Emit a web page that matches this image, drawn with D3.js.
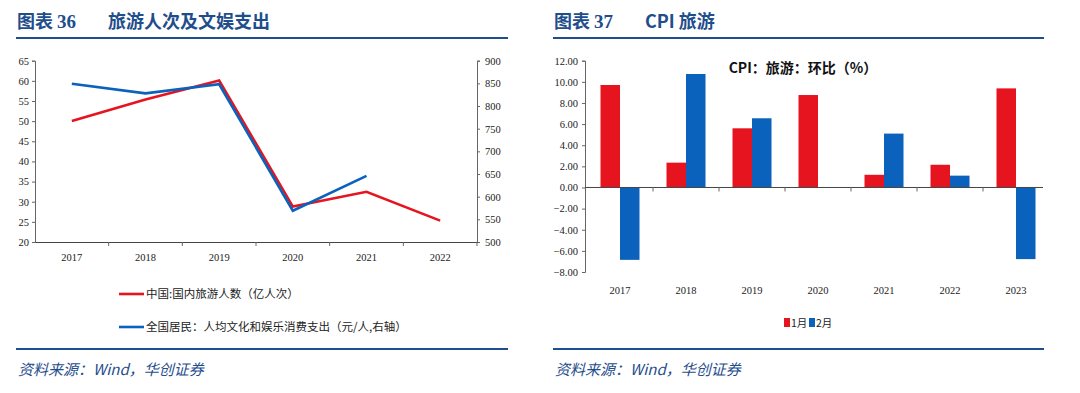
<!DOCTYPE html>
<meta charset="utf-8">
<script src="https://d3js.org/d3.v7.min.js"></script>
<style>
	body{
		margin:0;
		background:#fff;
	}
	svg text{
		font-family:"Liberation Serif", serif;
	}
	.cjk{
		font-family:"Noto Sans CJK SC", sans-serif !important;
	}
</style>
<div id="chart"></div>
<script>
	// left chart: tourism trips & culture/entertainment spending
	var years1 = ["2017","2018","2019","2020","2021","2022"]
	var trips = [50.01,55.39,60.06,28.79,32.46,25.30]          // 亿人次, left axis
	var spend = [849,828,848,569,646,null]                     // 元/人, right axis
	var leftTicks = [20,25,30,35,40,45,50,55,60,65]
	var rightTicks = [500,550,600,650,700,750,800,850,900]
	var legend1 = ["中国:国内旅游人数（亿人次）","全国居民：人均文化和娱乐消费支出（元/人,右轴）"]

	// right chart: CPI tourism mom
	var years2 = ["2017","2018","2019","2020","2021","2022","2023"]
	var jan = [9.7,2.35,5.6,8.75,1.2,2.15,9.38]
	var feb = [-6.85,10.74,6.55,null,5.1,1.12,-6.78]
	var cpiTicks = [-8,-6,-4,-2,0,2,4,6,8,10,12]
	var seriesNames = ["1月","2月"]

	var red = "#E6141E"
	var blue = "#0A62BC"
	var navy = "#1F4E8C"

	var svg = d3.select("#chart").append("svg").attr("width",1080).attr("height",393)

	// ---------- headers / footers ----------
	function frame(x0,x1,num,title){
		var t = svg.append("text").attr("class","cjk").attr("x",x0+1).attr("y",28)
			.attr("fill",navy).attr("font-size",18).attr("font-weight","bold")
		t.append("tspan").text("图表 ")
		t.append("tspan").text(num).attr("font-family","Liberation Serif").attr("font-size",19)
		svg.append("text").attr("class","cjk").attr("x",x0+92).attr("y",28)
			.attr("fill",navy).attr("font-size",18).attr("font-weight","bold").text(title)
		svg.append("line").attr("x1",x0).attr("x2",x1).attr("y1",38).attr("y2",38)
			.attr("stroke",navy).attr("stroke-width",2)
		svg.append("line").attr("x1",x0).attr("x2",x1).attr("y1",349).attr("y2",349)
			.attr("stroke",navy).attr("stroke-width",2)
		svg.append("text").attr("class","cjk").attr("x",x0+2).attr("y",375)
			.attr("fill",navy).attr("font-size",15).attr("font-style","italic")
			.text("资料来源：Wind，华创证券")
	}
	frame(16,508,"36","旅游人次及文娱支出")
	frame(553,1044,"37","CPI 旅游")

	// ---------- left chart ----------
	var x1 = d3.scaleBand().domain(years1).range([35,477])
	var yL = d3.scaleLinear().domain([20,65]).range([242,60.7])
	var yR = d3.scaleLinear().domain([500,900]).range([242,60.7])
	var axisColor = "#666"

	var gl = svg.append("g").attr("transform","translate(35,0)")
		.call(d3.axisLeft(yL).tickValues(leftTicks).tickSize(3).tickPadding(3))
	var gr = svg.append("g").attr("transform","translate(477,0)")
		.call(d3.axisRight(yR).tickValues(rightTicks).tickSize(3).tickPadding(5))
	var gb = svg.append("g").attr("transform","translate(0,242)")
		.call(d3.axisBottom(x1).tickSize(0).tickPadding(12))
	gb.selectAll(".tick").append("line")
		.attr("x1",x1.bandwidth()/2).attr("x2",x1.bandwidth()/2).attr("y2",4).attr("stroke",axisColor)
	;[gl,gr,gb].forEach(function(g){
		g.selectAll("path,line").attr("stroke",axisColor)
		g.selectAll("text").attr("font-size",10.5).attr("fill","#222")
			.attr("font-family","Liberation Serif")
	})
	gb.select(".domain").attr("stroke","#444")

	var line1 = d3.line()
		.defined(function(d){return d[1]!=null})
		.x(function(d){return x1(d[0])+x1.bandwidth()/2})

	svg.append("path").datum(years1.map(function(y,i){return [y,trips[i]]}))
		.attr("fill","none").attr("stroke",red).attr("stroke-width",2.6)
		.attr("d",line1.y(function(d){return yL(d[1])}))
	svg.append("path").datum(years1.map(function(y,i){return [y,spend[i]]}))
		.attr("fill","none").attr("stroke",blue).attr("stroke-width",2.6)
		.attr("d",line1.y(function(d){return yR(d[1])}))

	var legCols = [red,blue]
	legend1.forEach(function(txt,i){
		var ly = 294+i*33
		svg.append("line").attr("x1",119).attr("x2",144).attr("y1",ly).attr("y2",ly)
			.attr("stroke",legCols[i]).attr("stroke-width",2.6)
		svg.append("text").attr("class","cjk").attr("x",146).attr("y",ly+4)
			.attr("font-size",11.5).attr("fill","#222").text(txt)
	})

	// ---------- right chart ----------
	var x2 = d3.scaleBand().domain(years2).range([587,1049])
	var xs = d3.scaleBand().domain(seriesNames)
		.range([x2.bandwidth()/2-19.5, x2.bandwidth()/2+19.5])
	var yC = d3.scaleLinear().domain([-8,12]).range([272,60.7])

	var ga = svg.append("g").attr("transform","translate(585,0)")
		.call(d3.axisLeft(yC).tickValues(cpiTicks).tickSize(3).tickPadding(4).tickFormat(d3.format(".2f")))
	ga.selectAll("path,line").attr("stroke",axisColor)
	ga.selectAll("text").attr("font-size",10.5).attr("fill","#222").attr("font-family","Liberation Serif")

	var bars = [jan,feb]
	var barCols = [red,blue]
	bars.forEach(function(vals,si){
		svg.append("g").selectAll("rect")
			.data(years2.map(function(y,i){return {y:y,v:vals[i]}}).filter(function(d){return d.v!=null}))
			.enter().append("rect")
			.attr("x",function(d){return x2(d.y)+xs(seriesNames[si])})
			.attr("width",xs.bandwidth())
			.attr("y",function(d){return yC(Math.max(0,d.v))})
			.attr("height",function(d){return Math.abs(yC(d.v)-yC(0))})
			.attr("fill",barCols[si])
	})

	// zero axis with category ticks
	var gz = svg.append("g").attr("transform","translate(0,"+yC(0)+")")
	gz.append("line").attr("x1",585).attr("x2",1043).attr("stroke","#444").attr("stroke-width",1)
	gz.selectAll(".ct").data(years2.slice(1)).enter().append("line")
		.attr("x1",function(d){return x2(d)}).attr("x2",function(d){return x2(d)})
		.attr("y2",4).attr("stroke",axisColor)

	svg.append("g").selectAll("text").data(years2).enter().append("text")
		.attr("x",function(d){return x2(d)+x2.bandwidth()/2}).attr("y",294)
		.attr("text-anchor","middle").attr("font-size",10.5).attr("fill","#222").text(function(d){return d})

	svg.append("text").attr("class","cjk").attr("x",803).attr("y",73).attr("text-anchor","middle")
		.attr("font-size",14).attr("font-weight","bold").attr("fill","#111").text("CPI：旅游：环比（%）")

	seriesNames.forEach(function(n,i){
		var lx = 784+i*25
		svg.append("rect").attr("x",lx).attr("y",318).attr("width",6).attr("height",9).attr("fill",barCols[i])
		svg.append("text").attr("class","cjk").attr("x",lx+7).attr("y",327)
			.attr("font-size",10.5).attr("fill","#222").text(n)
	})
</script>
